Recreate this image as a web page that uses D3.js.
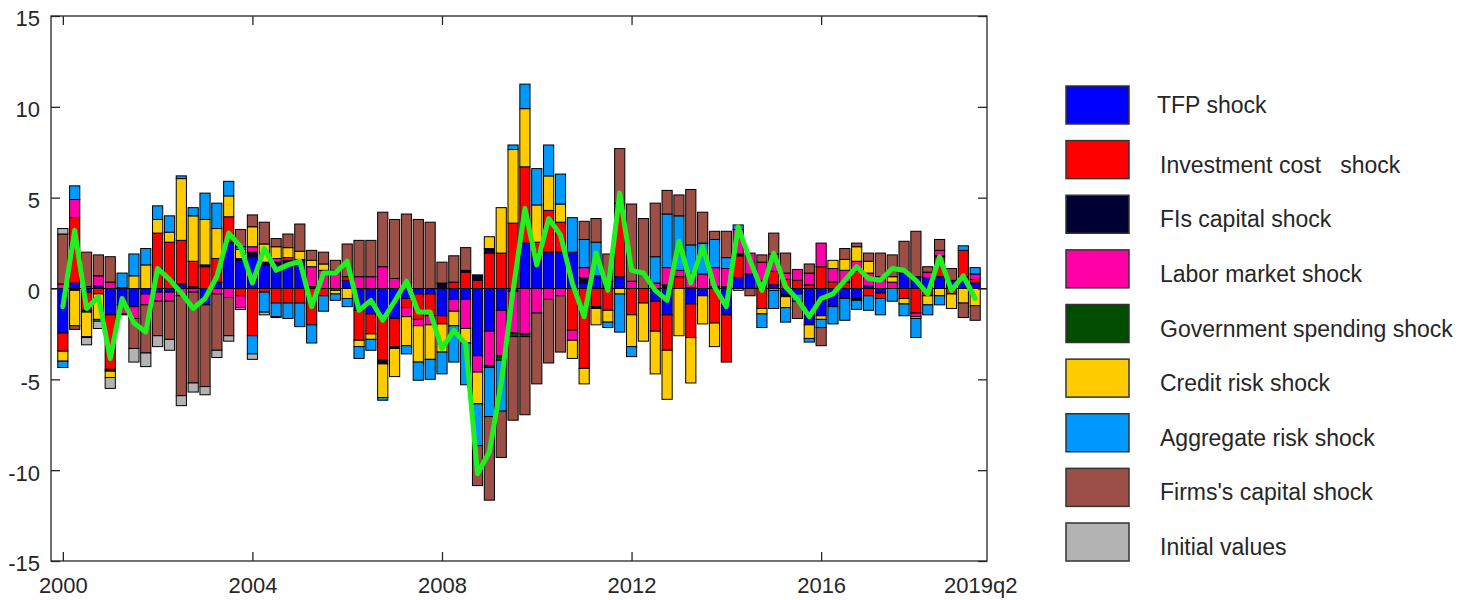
<!DOCTYPE html>
<html>
<head>
<meta charset="utf-8">
<script src="https://cdn.jsdelivr.net/npm/d3@7"></script>
<style>
  body { margin: 0; background: #fff; }
  text { font-family: "Liberation Sans", Arial, sans-serif; fill: #262626; }
</style>
</head>
<body>
<script>
// quarters 2000q1 .. 2019q2
const quarters = d3.range(78).map(i => (2000 + Math.floor(i / 4)) + "q" + (i % 4 + 1));

// shock contributions, one value per quarter
const tfp = [-2.45,0.3,-0.2,0.15,-1.45,-0.9,-1.0,-0.3,-0.2,-0.2, 0.25,0.1,-0.9,0.35,2.55,1.55,1.75,1.3,1.35,1.45,
  1.55,0.1,0,0,0.45,-1.2,-1.4,-1.55,-1.65,-0.55, -0.3,-0.3,-1.5,-0.6,-0.6,-3.7,-2.35,-1.2,-0.15,2.5,
  2.0,2.0,2.0,2.0,0.3,0.7,0.4,0.65,0,0, -0.7,-1.45,0,-0.85,-0.4,0.1,-1.45,0.6,0.8,0.35,
  0.2,-0.35,-0.3,-2.0,-1.5,-1.0,-0.55,-0.55,0.15,-0.25, 0,0.85,0.65,0.6,0.65,0.45,0.65,0.3];
const invest = [-1.0,3.6,-1.0,-0.3,-3.0,0,0,0,3.05,2.55, 2.4,1.4,1.2,1.3,1.4,-0.4,-2.6,-0.2,-0.8,-0.8,
  -0.8,-2.0,-0.4,-0.1,0.2,-1.65,-1.1,-2.4,-1.55,-0.5, -1.4,-1.2,-0.45,0.35,0.9,0.45,1.95,1.95,3.6,4.2,
  0.55,2.3,1.65,-2.3,-4.4,-1.0,-1.2,4.05,-1.45,-0.8, -1.65,-1.95,0.65,-1.85,0,-1.9,-2.6,1.2,0,-1.1,
  0.75,0.5,0.45,0.2,1.2,0.35,0.35,0.95,-0.4,-0.3, 0,-0.55,-1.35,-0.4,1.1,-0.3,1.45,0.2];
const fisCapital = [0,-0.1,-0.1,0,-0.1,0.05,0,0,0,0, 0,0,0.1,0,0,0.1,0.25,0.15,0.1,0.1,
  0.05,0,0,0,0,0,0,-0.2,-0.1,0, 0,0,0.3,0,0.1,0.3,0.25,0,0,0,
  0,0,0,0,0.3,-0.1,0,0,0,0, 0,0.2,0,0.05,0,0,0.1,0.1,0,0.1,
  0,-0.1,0,0,0,0,0,-0.1,0,0, 0,0,0,0,0.05,0,0,0];
const labor = [0.25,1.0,0.1,0.55,0.35,-0.5,-0.65,-0.6,-0.5,-0.5, -0.4,-0.2,0,-0.3,-0.5,-0.65,0.3,0,0.2,0.15,
  0,1.1,1.0,1.0,0,0.65,0.65,1.2,0.55,-0.5, -0.35,-0.5,0,-0.65,-1.6,-0.9,-1.9,-2.5,-2.3,-2.5,
  -1.35,-0.6,-0.4,-0.55,0.55,0,0,0,0.4,0, 0.3,0.95,0.35,0.8,0.8,1.05,1.0,1.35,1.15,1.0,
  0.95,0.35,0.6,0.65,1.3,0.75,0.65,0.55,0.7,0.65, 0.35,0,-0.2,0.3,0.3,0,0,0.3];
const govSpending = [0,0,0,0,0,-0.05,0,0,0,0, 0,0,0,0,0,0,0,0,0,0,
  0,0,0,0,0,0,0,0,0,0, 0,0,0,0,0,0,-0.1,-0.25,-0.2,-0.15,
  0,0,0,0,0,0,0,0,0,0, 0,0,0,0,0,0,0,0,0,0,
  0,0,0,0,0,0,0,0,0,0, 0,0,0,0,0,0,0,0];
const creditRisk = [-0.55,-1.95,-1.35,-1.4,-0.35,0,0.7,1.3,0.75,0.55, 3.4,2.5,2.5,1.65,1.15,0.5,1.1,1.0,0.65,0.55,
  0.45,0.35,0.35,-0.2,-0.55,-0.35,-0.3,-1.85,-1.55,-1.6, -2.0,-1.9,-1.55,-0.8,-0.8,-1.75,0.65,2.5,4.05,3.2,
  2.05,1.9,1.0,-1.0,-0.85,-0.9,-0.65,-0.3,-1.75,-2.1, -2.35,-2.7,-2.6,-2.5,-1.55,-1.3,0,-0.1,0,-0.3,
  -0.1,-0.6,0,-0.75,-0.2,0.45,0.6,0.8,0.65,0, 0.3,-0.3,-0.1,-0.5,-0.4,-0.8,-0.8,-0.95];
const aggRisk = [-0.35,0.75,-0.05,-0.1,0,0.8,1.2,0.9,0.75,0.9, 0.15,0.45,1.45,1.4,0.8,0.15,-1.0,-1.1,-0.75,-0.85,
  -1.3,-1.0,-0.85,-0.35,-0.45,-0.65,-0.6,-0.15,0,-0.45, -1.0,-1.1,-1.2,-2.0,-2.3,-2.3,-2.7,-2.8,0.25,1.35,
  2.0,1.7,1.65,1.9,1.55,1.85,-0.3,-2.1,-0.55,0, 1.45,2.95,3.0,1.55,1.7,1.55,0.6,0.25,0,-0.75,
  -1.0,-0.8,-0.4,-0.2,-0.45,-0.95,-1.2,-0.5,-0.8,-0.9, -0.7,-0.65,-1.05,-0.55,-0.5,0,0.25,0.35];
const firmsCapital = [2.75,-0.2,1.9,1.15,1.4,0,-1.65,-2.65,-1.9,-2.1, -5.5,-5.0,-4.5,-3.1,-2.1,0.95,0.65,1.2,0.45,0.75,
  1.5,0.55,0.65,0.55,1.8,2.0,2.0,3.0,3.25,4.1, 3.8,3.65,1.15,1.45,1.25,-2.2,-4.6,-2.55,-4.6,-4.3,
  -3.9,-3.5,-3.1,0,1.0,1.3,1.5,3.0,4.25,3.85, 2.95,1.3,1.15,3.05,1.7,0.45,1.45,0,-0.4,0.4,
  1.15,1.1,-0.95,0.5,-1.0,0,0.6,0.2,0.45,1.3, 1.2,1.75,2.5,0.3,0.6,0.65,-0.8,-0.8];
const initial = [0.3,0,-0.4,-0.4,-0.6,0,-0.75,-0.75,-0.6,-0.6, -0.55,-0.5,-0.45,-0.4,-0.3,-0.1,-0.3,-0.15,-0.05,0,
  0,0,0,0,0,0,0,0,0,0, 0,0,0,0,0,0,0,0,0,0,
  0,0,0,0,0,0,0,0,0,0, 0,0,0,0,0,0,0,0,0,0,
  0,0,0,0,0,0,0,0,0,0, 0,0,0,0,0,0,0,0];

// observed series (green line)
const observed = [-1.0,3.2,-1.1,-0.45,-3.85,-0.55,-1.9,-2.4,1.1,0.5, -0.25,-1.1,-0.55,0.65,3.05,2.3,0.3,2.2,1.0,1.3,
  1.5,-1.0,0.85,0.85,1.5,-1.2,-0.65,-1.75,-0.7,0.4, -1.3,-1.3,-3.3,-2.3,-3.05,-10.2,-9.0,-5.2,-0.1,4.4,
  1.3,3.85,2.95,0.3,-1.55,1.95,-0.1,5.25,1.0,0.85, -0.1,-0.65,2.6,0.3,2.3,0.1,-1.0,3.4,1.55,-0.1,
  1.95,0.1,-0.6,-1.55,-0.55,-0.3,0.45,1.2,0.55,0.45, 1.1,1.0,0.45,-0.3,1.75,-0.1,0.7,-0.55];

const seriesNames = ["TFP shock", "Investment cost   shock", "FIs capital shock", "Labor market shock",
  "Government spending shock", "Credit risk shock", "Aggregate risk shock", "Firms's capital shock", "Initial values"];
const seriesValues = [tfp, invest, fisCapital, labor, govSpending, creditRisk, aggRisk, firmsCapital, initial];
const seriesColors = ["#0000ff", "#ff0000", "#000033", "#ff00a6", "#004d00", "#ffcc00", "#0099ff", "#9c4f46", "#b3b3b3"];

const xTickPos = [0, 16, 32, 48, 64, 77];
const xTickLabels = ["2000", "2004", "2008", "2012", "2016", "2019q2"];
const yTicks = [-15, -10, -5, 0, 5, 10, 15];

const width = 1459, height = 600;
const plot = { left: 51, right: 987, top: 16, bottom: 561 };

const svg = d3.select("body").append("svg")
  .attr("width", width)
  .attr("height", height);

const x = d3.scaleLinear().domain([-1, 78]).range([plot.left, plot.right]);
const y = d3.scaleLinear().domain([-15, 15]).range([plot.bottom, plot.top]);
const barW = (x(1) - x(0)) * 0.86;

// table for d3.stack
const keys = d3.range(seriesNames.length);
const table = quarters.map((q, i) => {
  const row = { i: i };
  keys.forEach(k => row[k] = seriesValues[k][i]);
  return row;
});
const stacked = d3.stack().keys(keys).offset(d3.stackOffsetDiverging)(table);

// bars
svg.append("g").selectAll("g")
  .data(stacked)
  .enter().append("g")
  .attr("fill", d => seriesColors[d.key])
  .selectAll("rect")
  .data(d => d.filter(s => s[1] !== s[0]))
  .enter().append("rect")
  .attr("x", d => x(d.data.i) - barW / 2)
  .attr("y", d => y(d[1]))
  .attr("width", barW)
  .attr("height", d => y(d[0]) - y(d[1]))
  .attr("stroke", "#000")
  .attr("stroke-width", 1);

// baseline
svg.append("line")
  .attr("x1", plot.left).attr("x2", plot.right)
  .attr("y1", y(0)).attr("y2", y(0))
  .attr("stroke", "#000").attr("stroke-width", 1);

// observed line
const line = d3.line().x((d, i) => x(i)).y(d => y(d));
svg.append("path")
  .datum(observed)
  .attr("d", line)
  .attr("fill", "none")
  .attr("stroke", "#1ff01f")
  .attr("stroke-width", 5)
  .attr("stroke-linejoin", "round")
  .attr("stroke-linecap", "round");

// axes, ticks pointing inward
function styleAxis(g) {
  g.select(".domain").remove();
  g.selectAll(".tick line").attr("stroke", "#262626").attr("stroke-width", 1.3);
  g.selectAll("text").attr("font-size", 22).attr("fill", "#262626")
    .attr("font-family", "'Liberation Sans', Arial, sans-serif");
}

const bottomAxis = svg.append("g")
  .attr("transform", `translate(0,${plot.bottom})`)
  .call(d3.axisBottom(x).tickValues(xTickPos).tickFormat((d, i) => xTickLabels[i])
    .tickSizeInner(-9).tickSizeOuter(0).tickPadding(16))
  .call(styleAxis);
bottomAxis.selectAll(".tick").filter(d => d === 77).select("line").remove();
bottomAxis.selectAll(".tick").filter(d => d === 77).select("text").attr("dx", 5);

svg.append("g")
  .attr("transform", `translate(0,${plot.top})`)
  .call(d3.axisTop(x).tickValues(xTickPos.slice(0, 5)).tickFormat("").tickSizeInner(-9).tickSizeOuter(0))
  .call(styleAxis);

svg.append("g")
  .attr("transform", `translate(${plot.left},0)`)
  .call(d3.axisLeft(y).tickValues(yTicks).tickFormat(d => String(d)).tickSizeInner(-9).tickSizeOuter(0).tickPadding(11))
  .call(styleAxis)
  .selectAll("text").attr("dy", "0.45em");

svg.append("g")
  .attr("transform", `translate(${plot.right},0)`)
  .call(d3.axisRight(y).tickValues(yTicks).tickFormat("").tickSizeInner(-9).tickSizeOuter(0))
  .call(styleAxis);

svg.append("rect")
  .attr("x", plot.left).attr("y", plot.top)
  .attr("width", plot.right - plot.left).attr("height", plot.bottom - plot.top)
  .attr("fill", "none").attr("stroke", "#262626").attr("stroke-width", 1.3);

// legend
const legendY = d3.scaleLinear().domain([0, 8]).range([86, 523]);
const legend = svg.append("g").selectAll("g")
  .data(seriesNames)
  .enter().append("g")
  .attr("transform", (d, i) => `translate(1066,${legendY(i)})`);

legend.append("rect")
  .attr("width", 63).attr("height", 38)
  .attr("fill", (d, i) => seriesColors[i])
  .attr("stroke", "#333").attr("stroke-width", 1.5);

legend.append("text")
  .attr("x", (d, i) => i === 0 ? 91 : 94)
  .attr("y", (d, i) => i === 0 ? 27 : 32)
  .attr("font-size", 23)
  .style("white-space", "pre")
  .text(d => d);
</script>
</body>
</html>
